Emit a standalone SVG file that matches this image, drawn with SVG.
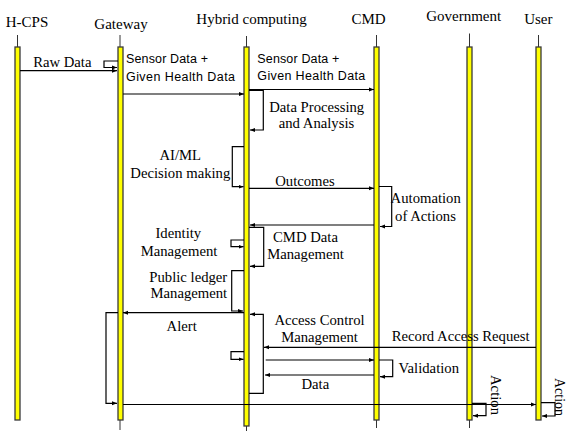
<svg xmlns="http://www.w3.org/2000/svg" width="566" height="431" viewBox="0 0 566 431">
  <style>
    .hdr { font-family: "Liberation Serif", "Times New Roman", serif; font-size: 15px; fill: #000; text-anchor: middle; }
    .lbl { font-family: "Liberation Serif", "Times New Roman", serif; font-size: 14.7px; fill: #000; text-anchor: middle; }
    .sans { font-family: "Liberation Sans", Arial, sans-serif; font-size: 12.5px; fill: #000; }
    .stub { stroke: #333; stroke-width: 1; fill: none; }
    .bar { fill: #ffff00; stroke: #3a3a3a; stroke-width: 1.3; }
    .msg { fill: none; stroke: #000; stroke-width: 1.2; }
    .arr { marker-end: url(#ah); }
  </style>
  <defs>
    <marker id="ah" viewBox="0 0 6 6" refX="6" refY="3" markerWidth="5" markerHeight="5" orient="auto" markerUnits="userSpaceOnUse">
      <path d="M0,0.6 L6,3 L0,5.4 Z" fill="#000"/>
    </marker>
  </defs>
  <rect width="566" height="431" fill="#fff"/>

  <!-- lifelines -->
  <g id="hcps">
    <text class="hdr" x="27" y="26.5">H-CPS</text>
    <line class="stub" x1="17.5" y1="35" x2="17.5" y2="47"/>
    <rect class="bar" x="15" y="47" width="5" height="373"/>
  </g>
  <g id="gateway">
    <text class="hdr" x="121" y="29">Gateway</text>
    <line class="stub" x1="120" y1="35" x2="120" y2="430"/>
    <rect class="bar" x="118" y="47" width="5" height="373"/>
  </g>
  <g id="hybrid">
    <text class="hdr" x="251.5" y="24">Hybrid computing</text>
    <line class="stub" x1="246.5" y1="36" x2="246.5" y2="431"/>
    <rect class="bar" x="244" y="47" width="5" height="379"/>
  </g>
  <g id="cmd">
    <text class="hdr" x="368.5" y="23.5">CMD</text>
    <line class="stub" x1="376.5" y1="35" x2="376.5" y2="428"/>
    <rect class="bar" x="374" y="47" width="5" height="373"/>
  </g>
  <g id="government">
    <text class="hdr" x="463.7" y="21">Government</text>
    <line class="stub" x1="469.5" y1="33.5" x2="469.5" y2="428"/>
    <rect class="bar" x="467" y="47" width="5" height="373"/>
  </g>
  <g id="user">
    <text class="hdr" x="538.3" y="24">User</text>
    <line class="stub" x1="538.5" y1="35" x2="538.5" y2="47"/>
    <rect class="bar" x="536" y="47" width="5" height="373"/>
  </g>

  <!-- messages and self-calls -->
  <g id="connectors">
    <path class="msg arr" d="M20,70.7 H117"/>
    <path class="msg arr" d="M118,61 H104 V67.5 H117"/>
    <path class="msg arr" d="M123,94 H244"/>
    <path class="msg arr" d="M249,89.5 H374"/>
    <path class="msg arr" d="M249,90.5 H263.3 V130 H250"/>
    <path class="msg arr" d="M244,146.7 H232.3 V186.7 H243.5"/>
    <path class="msg arr" d="M249,188.3 H374"/>
    <path class="msg arr" d="M379,186.5 H391.7 V226.5 H380"/>
    <path class="msg arr" d="M374,225 H250"/>
    <path class="msg arr" d="M249,227.3 H263.7 V266.3 H250"/>
    <path class="msg arr" d="M244,240 H231 V246.7 H243.5"/>
    <path class="msg arr" d="M244,270.7 H231.7 V311 H243"/>
    <path class="msg arr" d="M244,312.7 H123"/>
    <path class="msg arr" d="M118,312.7 H106 V403.3 H117"/>
    <path class="msg arr" d="M249,393.3 H263.3 V314.3 H250"/>
    <path class="msg arr" d="M244,351.7 H231 V359.3 H243.5"/>
    <path class="msg arr" d="M536,347.3 H264"/>
    <path class="msg arr" d="M265.7,360 H374"/>
    <path class="msg arr" d="M374,375 H265"/>
    <path class="msg arr" d="M379,360 H392.7 V376.7 H380"/>
    <path class="msg arr" d="M123,404.5 H536"/>
    <path class="msg arr" d="M472,403.3 H486 V415.7 H473"/>
    <path class="msg arr" d="M541,402.7 H555 V416 H542"/>
  </g>

  <!-- message labels -->
  <g id="labels">
    <text class="lbl" x="62.3" y="66.5">Raw Data</text>
    <text class="sans" x="126" y="63.3" textLength="82">Sensor Data +</text>
    <text class="sans" x="126" y="80.7" textLength="109">Given Health Data</text>
    <text class="sans" x="257.3" y="62.5" textLength="82">Sensor Data +</text>
    <text class="sans" x="257.3" y="80" textLength="108">Given Health Data</text>
    <text class="lbl" x="316.7" y="112.3">Data Processing</text>
    <text class="lbl" x="316.5" y="128.3">and Analysis</text>
    <text class="lbl" x="180.3" y="160">AI/ML</text>
    <text class="lbl" x="180.3" y="177.7">Decision making</text>
    <text class="lbl" x="305" y="186">Outcomes</text>
    <text class="lbl" x="425.7" y="203.3">Automation</text>
    <text class="lbl" x="425.5" y="221">of Actions</text>
    <text class="lbl" x="305.5" y="241.7">CMD Data</text>
    <text class="lbl" x="305.5" y="258.5">Management</text>
    <text class="lbl" x="178.3" y="238.3">Identity</text>
    <text class="lbl" x="179" y="255.7">Management</text>
    <text class="lbl" x="188.3" y="281.7">Public ledger</text>
    <text class="lbl" x="188.8" y="298.3">Management</text>
    <text class="lbl" x="181.7" y="330.7">Alert</text>
    <text class="lbl" x="319.5" y="325">Access Control</text>
    <text class="lbl" x="319.5" y="341.7">Management</text>
    <text class="lbl" x="460.7" y="341">Record Access Request</text>
    <text class="lbl" x="428.8" y="373.3">Validation</text>
    <text class="lbl" x="315.3" y="389.3">Data</text>
    <text class="lbl" transform="translate(490.5,395) rotate(90)">Action</text>
    <text class="lbl" transform="translate(554.5,397) rotate(90)" style="font-size:14px">Action</text>
  </g>
</svg>
